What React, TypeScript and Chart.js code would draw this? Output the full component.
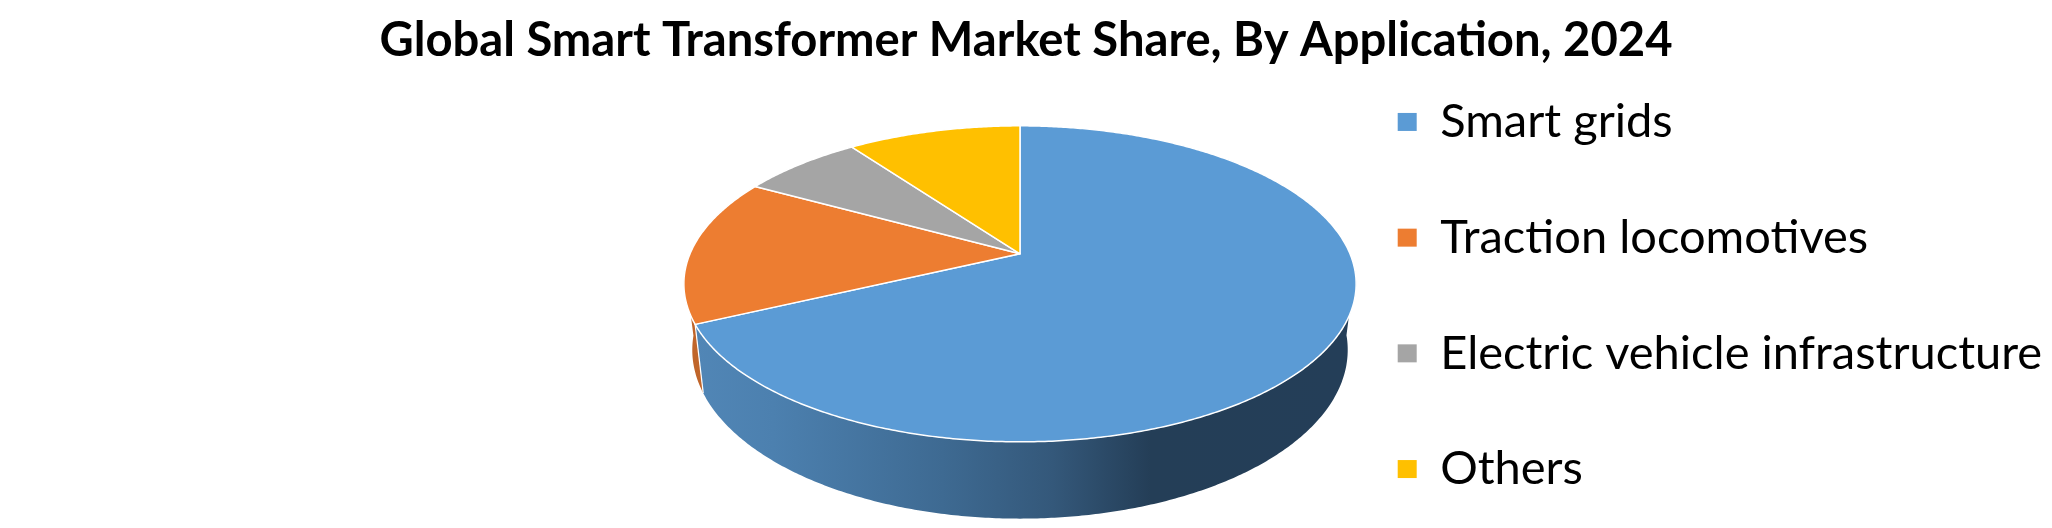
import { useEffect, useRef } from "react";
import { Chart, registerables } from "chart.js";

Chart.register(...registerables);

const categories = [
  "Smart grids",
  "Traction locomotives",
  "Electric vehicle infrastructure",
  "Others",
];
const shares = [68, 15, 7, 10];
const sliceColors = ["#5B9BD5", "#ED7D31", "#A5A5A5", "#FFC000"];
const chartTitle = "Global Smart Transformer Market Share, By Application, 2024";

// the pie is tilted in perspective, so slices are projected by hand from the arc angles
const RADIUS = 330;
const SQUASH = 152.3;
const PERSPECTIVE = 0.19;
const APEX_SHIFT = 355.5;
const APEX_LIFT = 16.5;
const WALL_DROP = 64;
const WALL_SCALE_X = 0.975;
const WALL_SCALE_Y = 1.068;

function project(chartX: number, chartY: number, angle: number, drop: number, scaleX: number, scaleY: number) {
  const u = Math.cos(angle);
  const v = Math.sin(angle);
  const w = 1 - PERSPECTIVE * v;
  return {
    x: chartX + (scaleX * RADIUS * u) / w,
    y: chartY + drop + (scaleY * SQUASH * v) / w,
  };
}

const tiltedPie = {
  id: "tiltedPie",
  beforeDatasetsDraw(chart: Chart) {
    const ctx = chart.ctx;
    const arcs: any[] = chart.getDatasetMeta(0).data;
    const cx = arcs[0].x + APEX_SHIFT;
    const cy = arcs[0].y - APEX_LIFT;
    const step = Math.PI / 360;

    const wallFill = ctx.createLinearGradient(cx - 325, 0, cx + 326, 0);
    wallFill.addColorStop(0, "#5186B6");
    wallFill.addColorStop(0.12, "#4C80AF");
    wallFill.addColorStop(0.38, "#3E6A92");
    wallFill.addColorStop(0.55, "#34587A");
    wallFill.addColorStop(0.7, "#243E57");
    wallFill.addColorStop(1, "#243E58");
    const wallColors = [wallFill, "#C0652A", "#7C7C7C", "#BF9000"];

    // side wall, only the part facing the viewer
    arcs.forEach((arc, i) => {
      const angles: number[] = [];
      for (let a = arc.startAngle; a < arc.endAngle; a += step) {
        if (Math.sin(a) >= 0.1) angles.push(a);
      }
      if (Math.sin(arc.endAngle) >= 0.1) angles.push(arc.endAngle);
      if (angles.length < 2) return;
      ctx.beginPath();
      angles.forEach((a) => {
        const p = project(cx, cy, a, 0, 1, 1);
        ctx.lineTo(p.x, p.y);
      });
      angles.reverse().forEach((a) => {
        const p = project(cx, cy, a, WALL_DROP, WALL_SCALE_X, WALL_SCALE_Y);
        ctx.lineTo(p.x, p.y);
      });
      ctx.closePath();
      ctx.fillStyle = wallColors[i];
      ctx.fill();
    });

    // white edge where two wall colours meet
    const seamTop = project(cx, cy, arcs[0].endAngle, 0, 1, 1);
    const seamBottom = project(cx, cy, arcs[0].endAngle, WALL_DROP, WALL_SCALE_X, WALL_SCALE_Y);
    ctx.beginPath();
    ctx.moveTo(seamTop.x, seamTop.y);
    ctx.lineTo(seamBottom.x, seamBottom.y);
    ctx.strokeStyle = "#FFFFFF";
    ctx.lineWidth = 1.2;
    ctx.stroke();

    // top face
    arcs.forEach((arc, i) => {
      ctx.beginPath();
      ctx.moveTo(cx, cy);
      for (let a = arc.startAngle; a < arc.endAngle; a += step) {
        const p = project(cx, cy, a, 0, 1, 1);
        ctx.lineTo(p.x, p.y);
      }
      const end = project(cx, cy, arc.endAngle, 0, 1, 1);
      ctx.lineTo(end.x, end.y);
      ctx.closePath();
      ctx.fillStyle = sliceColors[i];
      ctx.fill();
      ctx.strokeStyle = "#FFFFFF";
      ctx.lineWidth = 1.5;
      ctx.lineJoin = "round";
      ctx.stroke();
    });
    return false;
  },
};

function App() {
  const chartRef = useRef<null | HTMLCanvasElement>(null);

  useEffect(() => {
    document.body.style.margin = "0";
    if (!chartRef.current) return;
    const chart = new Chart(chartRef.current, {
      type: "pie",
      data: {
        labels: categories,
        datasets: [
          {
            data: shares,
            backgroundColor: sliceColors,
            borderWidth: 0,
          },
        ],
      },
      options: {
        responsive: false,
        animation: false,
        devicePixelRatio: 1,
        events: [],
        layout: { padding: { bottom: -63 } },
        plugins: {
          title: {
            display: true,
            text: chartTitle,
            color: "#000000",
            font: { family: "Lato", size: 47.2, weight: "bold" },
            padding: { top: 12, bottom: -56 },
          },
          legend: {
            position: "right",
            maxWidth: 723,
            labels: {
              color: "#000000",
              boxWidth: 19,
              boxHeight: 18,
              padding: 68.7,
              font: { family: "Lato", size: 47 },
            },
          },
          tooltip: { enabled: false },
        },
      },
      plugins: [tiltedPie],
    } as any);
    return () => {
      chart.destroy();
    };
  }, []);

  return <canvas ref={chartRef} width={2052} height={528} style={{ display: "block" }} />;
}

export default App;
